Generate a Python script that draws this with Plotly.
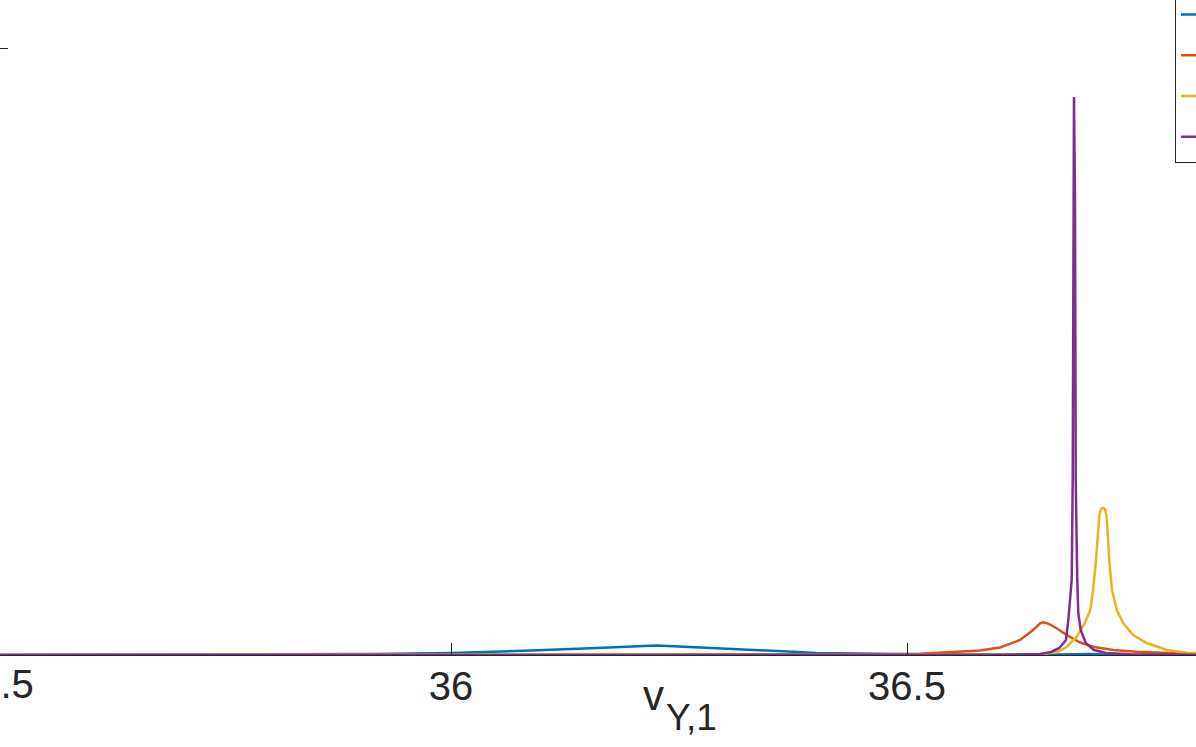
import plotly.graph_objects as go

# values
blue_x = [35.50, 35.78, 35.915, 36.00, 36.04, 36.095, 36.16, 36.225, 36.262, 36.317,
          36.375, 36.40, 36.463, 36.50, 36.558, 36.646, 36.673, 36.70, 36.723, 36.82]
blue_y = [0, 0.008, 0.041, 0.083, 0.124, 0.194, 0.289, 0.392, 0.330, 0.248,
          0.136, 0.083, 0.050, 0.029, 0.012, 0.012, 0.037, 0.037, 0.008, 0]

orange_x = [35.50, 36.383, 36.470, 36.514, 36.558, 36.580, 36.602, 36.624, 36.637, 36.6414,
            36.6458, 36.6491, 36.6535, 36.6579, 36.6645, 36.675, 36.690, 36.704, 36.726, 36.752,
            36.788, 36.817, 36.83]
orange_y = [0, 0.008, 0.025, 0.050, 0.124, 0.186, 0.309, 0.619, 0.990, 1.155,
            1.300, 1.353, 1.312, 1.238, 1.093, 0.825, 0.516, 0.342, 0.206, 0.136,
            0.074, 0.045, 0.040]

yellow_x = [35.50, 36.602, 36.646, 36.665, 36.675, 36.686, 36.695, 36.701, 36.704, 36.707,
            36.7094, 36.711, 36.7127, 36.7149, 36.7171, 36.7187, 36.7204, 36.722, 36.7248, 36.730,
            36.737, 36.748, 36.763, 36.785, 36.807, 36.83]
yellow_y = [0, 0, 0.021, 0.124, 0.330, 0.743, 1.320, 1.856, 2.682, 3.795,
            5.034, 5.776, 6.023, 6.064, 6.023, 5.776, 4.868, 3.795, 2.682, 1.856,
            1.320, 0.825, 0.495, 0.206, 0.095, 0.070]

purple_x = [35.50, 36.602, 36.646, 36.658, 36.667, 36.6743, 36.6769, 36.6806, 36.6817, 36.6826,
            36.6831, 36.6842, 36.6850, 36.6867, 36.6878, 36.6905, 36.696, 36.705, 36.718, 36.745,
            36.83]
purple_y = [0, 0.008, 0.041, 0.124, 0.289, 0.619, 1.444, 3.094, 7.220, 18.89,
            23.02, 18.89, 7.220, 3.094, 1.733, 1.031, 0.495, 0.206, 0.083, 0.029,
            0.008]

names = ["t = 1", "t = 10", "t = 100", "t = 1000"]
colors = ["#0072BD", "#D95319", "#EDB120", "#7E2F8E"]

FONT = "Liberation Sans"
INK = "#262626"
W, H, B = 1196, 747, 92
PH = H - B  # plot height in px


def px_x(p):
    return p / W


def px_y(p):
    return (PH - p) / PH


fig = go.Figure()
for xs, ys, name, col in zip([blue_x, orange_x, yellow_x, purple_x],
                             [blue_y, orange_y, yellow_y, purple_y], names, colors):
    fig.add_trace(go.Scatter(x=xs, y=ys, mode="lines", name=name,
                             line=dict(color=col, width=2.5)))

fig.update_layout(
    width=W, height=H,
    margin=dict(l=0, r=0, t=0, b=B, autoexpand=False),
    paper_bgcolor="white", plot_bgcolor="white",
    font=dict(family=FONT, color=INK, size=40),
    xaxis=dict(range=[35.50548, 36.81689], tickvals=[36, 36.5], ticktext=["36", "36.5"],
               ticks="inside", ticklen=12, tickcolor=INK, tickwidth=1, ticklabelstandoff=-4,
               showgrid=False, zeroline=False, showline=True, linecolor=INK, linewidth=1,
               tickfont=dict(family=FONT, size=40, color=INK)),
    yaxis=dict(range=[0, 27.02], tickvals=[0, 25], ticks="inside", ticklen=8,
               tickcolor=INK, tickwidth=1, showticklabels=False,
               showgrid=False, zeroline=False, showline=False),
    legend=dict(x=px_x(1175), xanchor="left", y=px_y(-11.8), yanchor="top",
                bgcolor="white", bordercolor=INK, borderwidth=1,
                font=dict(family=FONT, size=29, color=INK)),
    showlegend=True,
)

# "35.5" tick label of the axis, whose tick sits just left of the page
fig.add_annotation(text="35.5", xref="paper", yref="paper",
                   x=px_x(-5), y=px_y(707.5), xanchor="center", yanchor="bottom",
                   showarrow=False, font=dict(family=FONT, size=40, color=INK))

# x label v_{Y,1}
fig.add_annotation(text="v", xref="paper", yref="paper",
                   x=px_x(641), y=px_y(721), xanchor="left", yanchor="bottom",
                   showarrow=False, font=dict(family=FONT, size=42, color=INK))
fig.add_annotation(text="Y,1", xref="paper", yref="paper",
                   x=px_x(664), y=px_y(740), xanchor="left", yanchor="bottom",
                   showarrow=False, font=dict(family=FONT, size=37, color=INK))

fig.write_html("out.html", config={"displayModeBar": False},
               post_script="document.body.style.margin='0';")
